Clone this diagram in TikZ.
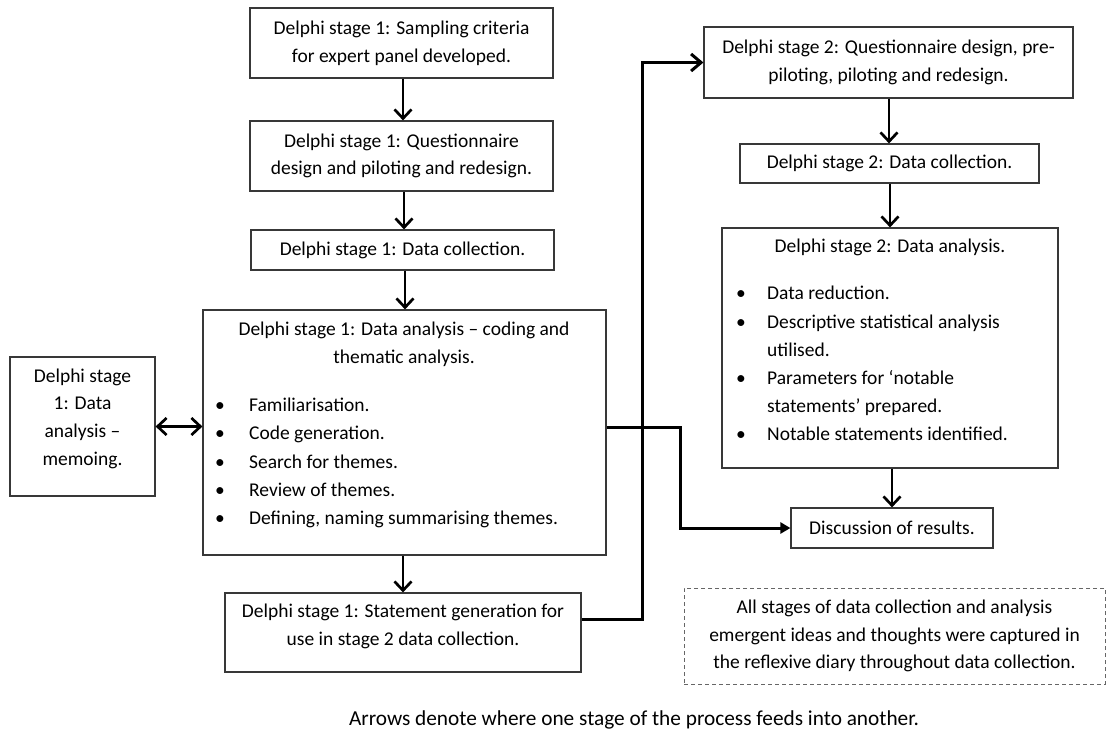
\documentclass[tikz,border=0pt]{standalone}
\usepackage{fontspec}
\setmainfont{Carlito}
\usetikzlibrary{arrows.meta}

\tikzset{
  box/.style={draw=black!78, line width=1.2pt, inner sep=0pt, align=center},
  txt/.style={inner sep=0pt, align=center},
  flow/.style={line width=2.7pt, -{Straight Barb[length=9pt,width=17pt]}},
  feed/.style={line width=3pt, -{Straight Barb[length=10pt,width=17pt]}},
  tofinal/.style={line width=3pt, -{Triangle[length=10pt,width=11pt]}},
  both/.style={line width=2.7pt, {Straight Barb[length=9pt,width=17pt]}-{Straight Barb[length=9pt,width=17pt]}},
  note/.style={draw=black!60, line width=1pt, dash pattern=on 4pt off 3pt, inner sep=0pt}
}
\newcommand{\bodyfont}{\fontsize{19.5}{27.7}\selectfont}
\newcommand{\listfont}[1]{\fontsize{19.5}{#1}\selectfont}
\newcommand{\bl}{\textbullet}

\begin{document}
\begin{tikzpicture}[x=1pt,y=-1pt,font=\bodyfont]
\useasboundingbox[fill=white] (0,0) rectangle (1110,731);

% stage 1 column
\node[box, minimum width=303pt, minimum height=70pt] (A) at (401.5,43)
  {Delphi stage 1: Sampling criteria\\for expert panel developed.};
\node[box, minimum width=303pt, minimum height=70pt] (B) at (401.5,156)
  {Delphi stage 1: Questionnaire\\design and piloting and redesign.};
\node[box, minimum width=303pt, minimum height=40pt] (C) at (402.5,250)
  {Delphi stage 1: Data collection.};
\node[box, minimum width=403pt, minimum height=245pt] (D) at (404.5,432.5) {};
\node[txt] (Dt) at (404,344) {Delphi stage 1: Data analysis -- coding and\\thematic analysis.};
\node[txt, anchor=north west, align=left, font=\listfont{28.3}] (Dl) at (215,391.5)
  {\begin{tabular}{@{}p{34pt}@{}l@{}}
   \bl & Familiarisation.\\
   \bl & Code generation.\\
   \bl & Search for themes.\\
   \bl & Review of themes.\\
   \bl & Defining, naming summarising themes.
   \end{tabular}};
\node[box, minimum width=145pt, minimum height=139pt] (M) at (82.5,426.5) {};
\node[txt] (Mt) at (82.5,418.5) {Delphi stage\\1: Data\\analysis --\\memoing.};
\node[box, minimum width=356pt, minimum height=79pt] (F) at (403,632.5) {};
\node[txt] (Ft) at (403,626.5) {Delphi stage 1: Statement generation for\\use in stage 2 data collection.};

% stage 2 column
\node[box, minimum width=369pt, minimum height=71pt] (E) at (888.5,62.5)
  {Delphi stage 2: Questionnaire design, pre-\\piloting, piloting and redesign.};
\node[box, minimum width=299pt, minimum height=39pt] (H) at (889.5,163.5)
  {Delphi stage 2: Data collection.};
\node[box, minimum width=336pt, minimum height=240pt] (G) at (890,348) {};
\node[txt] (Gt) at (890,247) {Delphi stage 2: Data analysis.};
\node[txt, anchor=north west, align=left, font=\listfont{28.2}] (Gl) at (736,280)
  {\begin{tabular}{@{}p{31pt}@{}l@{}}
   \bl & Data reduction.\\
   \bl & Descriptive statistical analysis\\
       & utilised.\\
   \bl & Parameters for ‘notable\\
       & statements’ prepared.\\
   \bl & Notable statements identified.
   \end{tabular}};
\node[box, minimum width=202pt, minimum height=40pt] (R) at (892,528)
  {Discussion of results.};

% reflexive diary note and caption
\node[note, minimum width=421pt, minimum height=96pt, align=center] (N) at (894.5,636)
  {All stages of data collection and analysis\\emergent ideas and thoughts were captured in\\the reflexive diary throughout data collection.};
\node[txt, font=\fontsize{21.3}{26}\selectfont] (cap) at (634,720)
  {Arrows denote where one stage of the process feeds into another.};

% junction points of the elbow connectors
\coordinate (j1) at (642,62.5);
\coordinate (j2) at (680,528);

% connectors
\draw[flow] (A.south -| 403,0) -- (B.north -| 403,0);
\draw[flow] (B.south -| 404,0) -- (C.north -| 404,0);
\draw[flow] (C.south -| 405,0) -- (D.north -| 405,0);
\draw[flow] (D.south -| 403,0) -- (F.north -| 403,0);
\draw[both] (M.east) -- (M.east -| D.west);
\draw[flow] (E.south -| 889,0) -- (H.north -| 889,0);
\draw[flow] (H.south -| 890,0) -- (G.north -| 890,0);
\draw[flow] (G.south -| 892,0) -- (R.north -| 892,0);
\draw[feed, line join=miter] ([yshift=13.5pt]F.east) -| (j1) -- (E.west);
\draw[tofinal, line join=miter] ([yshift=5.5pt]D.east) -| (j2) -- (R.west);
\end{tikzpicture}
\end{document}
